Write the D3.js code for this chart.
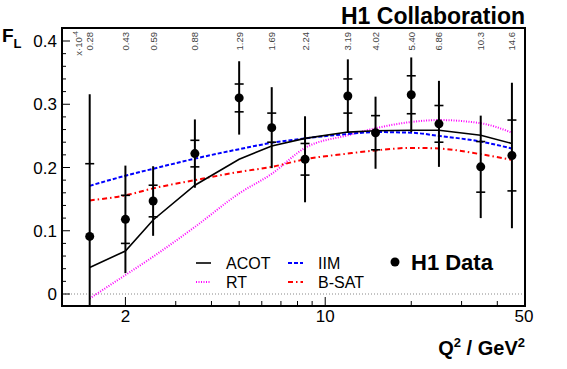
<!DOCTYPE html>
<html><head><meta charset="utf-8">
<script src="https://cdn.jsdelivr.net/npm/d3@7"></script>
<style>body{margin:0;background:#fff}svg{display:block;font-family:"Liberation Sans",Arial,sans-serif}</style>
</head><body><svg id="c" width="567" height="369"></svg>
<script>
const q2 = [1.5, 2, 2.5, 3.5, 5, 6.5, 8.5, 12, 15, 20, 25, 35, 45];
const xBjLabels = ["0.28","0.43","0.59","0.88","1.29","1.69","2.24","3.19","4.02","5.40","6.86","10.3","14.6"];
const fl = [0.091, 0.118, 0.147, 0.222, 0.310, 0.263, 0.213, 0.313, 0.255, 0.315, 0.269, 0.201, 0.219];
const statErr = [0.115, 0.038, 0.025, 0.021, 0.022, 0.023, 0.025, 0.027, 0.027, 0.030, 0.029, 0.040, 0.056];
const totErr = [0.225, 0.085, 0.055, 0.054, 0.058, 0.064, 0.068, 0.058, 0.057, 0.059, 0.068, 0.081, 0.115];
const acot = [0.042, 0.068, 0.117, 0.172, 0.213, 0.234, 0.246, 0.256, 0.258, 0.259, 0.259, 0.251, 0.238];
const iim  = [0.171, 0.187, 0.198, 0.214, 0.229, 0.239, 0.246, 0.253, 0.256, 0.255, 0.250, 0.241, 0.230];
const bsat = [0.148, 0.156, 0.167, 0.180, 0.193, 0.201, 0.213, 0.222, 0.227, 0.231, 0.230, 0.221, 0.212];
const rt   = [-0.007, 0.030, 0.059, 0.106, 0.159, 0.190, 0.231, 0.251, 0.262, 0.272, 0.275, 0.270, 0.255];
const yTicks = [0, 0.1, 0.2, 0.3, 0.4];
const xTickLabels = [2, 10, 50];
const xMinor = [3,4,5,6,7,8,9,20,30,40];

const L = 62, R = 525, T = 28, B = 306;
const svg = d3.select("#c");
const x = d3.scaleLog().domain([1.2, 50]).range([L, R]);
const y = d3.scaleLinear().domain([0, 0.4]).range([294, 41]);

svg.append("clipPath").attr("id","clip").append("rect").attr("x",L).attr("y",T).attr("width",R-L).attr("height",B-T);
const g = svg.append("g").attr("clip-path","url(#clip)");

// zero line
g.append("line").attr("x1",L).attr("x2",R).attr("y1",y(0)).attr("y2",y(0))
 .attr("stroke","#888").attr("stroke-width",1).attr("stroke-dasharray","1,2");

// curves
const mk = (vals, curve) => d3.line().x((d,i)=>x(q2[i])).y(d=>y(d)).curve(curve)(vals);
g.append("path").attr("d",mk(rt,d3.curveMonotoneX)).attr("fill","none").attr("stroke","#ff00ff").attr("stroke-width",2).attr("stroke-dasharray","1,1.5");
g.append("path").attr("d",mk(bsat,d3.curveMonotoneX)).attr("fill","none").attr("stroke","#ff0000").attr("stroke-width",2).attr("stroke-dasharray","5,3,1.5,3");
g.append("path").attr("d",mk(iim,d3.curveMonotoneX)).attr("fill","none").attr("stroke","#0000ff").attr("stroke-width",2).attr("stroke-dasharray","4,2");
g.append("path").attr("d",mk(acot,d3.curveLinear)).attr("fill","none").attr("stroke","#000").attr("stroke-width",1.6);

// data
q2.forEach((q,i)=>{
  const cx = x(q);
  g.append("line").attr("x1",cx).attr("x2",cx).attr("y1",y(fl[i]+totErr[i])).attr("y2",y(fl[i]-totErr[i])).attr("stroke","#000").attr("stroke-width",2);
  [fl[i]+statErr[i], fl[i]-statErr[i]].forEach(v=>{
    g.append("line").attr("x1",cx-4.5).attr("x2",cx+4.5).attr("y1",y(v)).attr("y2",y(v)).attr("stroke","#000").attr("stroke-width",1.6);
  });
  g.append("circle").attr("cx",cx).attr("cy",y(fl[i])).attr("r",4.5).attr("fill","#000");
});

// frame
svg.append("rect").attr("x",L).attr("y",T).attr("width",R-L).attr("height",B-T).attr("fill","none").attr("stroke","#000").attr("stroke-width",2);

// y ticks
for (let v=0; v<=0.42; v+=0.02) {
  const vv = Math.round(v*100)/100;
  const major = Math.abs(vv*10 - Math.round(vv*10))<1e-6;
  svg.append("line").attr("x1",L).attr("x2",L+(major?8:4)).attr("y1",y(vv)).attr("y2",y(vv)).attr("stroke","#000").attr("stroke-width",1);
}
yTicks.forEach(v=>{
  svg.append("text").attr("x",57).attr("y",y(v)+6).attr("text-anchor","end").attr("font-size",17).text(v===0?"0":v.toFixed(1));
});
// x ticks
xTickLabels.concat(xMinor).forEach(v=>{
  const major = (v===2||v===10);
  if (v===50) return;
  svg.append("line").attr("x1",x(v)).attr("x2",x(v)).attr("y1",B).attr("y2",B-(major?9:5)).attr("stroke","#000").attr("stroke-width",1);
});
xTickLabels.forEach(v=>{
  svg.append("text").attr("x",v===50?R-1:x(v)).attr("y",322).attr("text-anchor","middle").attr("font-size",17).text(v);
});

// top Bjorken-x labels
xBjLabels.forEach((t,i)=>{
  svg.append("text").attr("transform",`translate(${x(q2[i])+3.5},32) rotate(-90)`).attr("text-anchor","end")
    .attr("font-size",9.5).attr("fill","#444").text(t);
});
const xl = svg.append("text").attr("transform",`translate(82,31) rotate(-90)`).attr("text-anchor","end").attr("font-size",9.5).attr("fill","#444");
xl.append("tspan").text("x·10");
xl.append("tspan").attr("dy",-4).attr("font-size",7).text("-4");

// titles
svg.append("text").attr("x",R).attr("y",24).attr("text-anchor","end").attr("font-size",23).attr("font-weight","bold").text("H1 Collaboration");
const fL = svg.append("text").attr("x",2).attr("y",42).attr("font-size",19).attr("font-weight","bold");
fL.append("tspan").text("F");
fL.append("tspan").attr("dy",6).attr("font-size",13).text("L");
const xt = svg.append("text").attr("x",R).attr("y",355).attr("text-anchor","end").attr("font-size",20).attr("font-weight","bold");
xt.append("tspan").text("Q");
xt.append("tspan").attr("dy",-8).attr("font-size",13).text("2");
xt.append("tspan").attr("dy",8).text(" / GeV");
xt.append("tspan").attr("dy",-8).attr("font-size",13).text("2");

// legend
const leg = [
  {t:"ACOT", c:"#000", d:null, x:196, y:263},
  {t:"RT", c:"#ff00ff", d:"1,1.5", x:196, y:282},
  {t:"IIM", c:"#0000ff", d:"4,2", x:288, y:263},
  {t:"B-SAT", c:"#ff0000", d:"5,3,1.5,3", x:288, y:282}
];
leg.forEach(l=>{
  const ln = svg.append("line").attr("x1",l.x).attr("x2",l.x+15).attr("y1",l.y).attr("y2",l.y).attr("stroke",l.c).attr("stroke-width",l.d?2:1.6);
  if (l.d) ln.attr("stroke-dasharray",l.d);
  svg.append("text").attr("x",l.x+30).attr("y",l.y+6).attr("font-size",16).text(l.t);
});
svg.append("circle").attr("cx",395).attr("cy",262).attr("r",4.5).attr("fill","#000");
svg.append("text").attr("x",411).attr("y",270).attr("font-size",22).attr("font-weight","bold").text("H1 Data");
</script></body></html>
